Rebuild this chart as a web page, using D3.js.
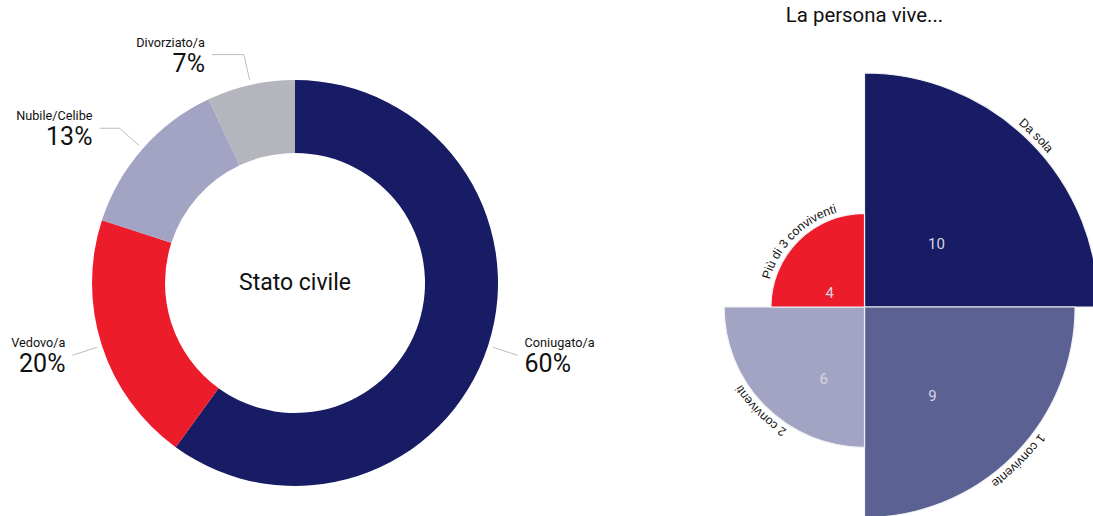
<!DOCTYPE html>
<html>
<head>
<meta charset="utf-8">
<script src="https://cdn.jsdelivr.net/npm/d3@7"></script>
<style>
  html, body { margin: 0; padding: 0; background: #fff; }
  svg { display: block; font-family: Roboto, "Noto Sans", sans-serif; }
</style>
</head>
<body>
<svg id="chart" width="1093" height="516"></svg>
<script>
// Stato civile (donut, percent)
const civilCategories = ["Coniugato/a", "Vedovo/a", "Nubile/Celibe", "Divorziato/a"];
const civilValues = [60, 20, 13, 7];
const civilColors = ["#171c64", "#ed1c2b", "#a3a4c4", "#b4b5bd"];
// horizontal tail of each leader line, px
const civilLeaderTail = [0, 0, 20, 32];

// La persona vive... (polar area, counts)
const liveCategories = ["Da sola", "1 convivente", "2 conviventi", "Più di 3 conviventi"];
const liveValues = [10, 9, 6, 4];
const liveColors = ["#171c64", "#5c6193", "#a3a4c4", "#ed1c2b"];
// value-label placement inside each sector: [angle in degrees, fraction of radius]
const liveLabelPlace = [[48.6, 0.41], [142.5, 0.53], [209.4, 0.59], [292, 0.40]];

const svg = d3.select("#chart");

// ---------- donut ----------
const dc = { x: 295, y: 283 };
const rOuter = 203, rInner = 130;
const pie = d3.pie().sort(null).value(d => d.v);
const donutData = pie(civilCategories.map((c, i) => ({ c, v: civilValues[i], i })));
const donutArc = d3.arc().innerRadius(rInner).outerRadius(rOuter);

const gD = svg.append("g").attr("transform", `translate(${dc.x},${dc.y})`);
gD.selectAll("path.slice").data(donutData).join("path")
  .attr("class", "slice")
  .attr("d", donutArc)
  .attr("fill", d => civilColors[d.data.i]);

gD.append("text")
  .attr("text-anchor", "middle")
  .attr("y", 7)
  .attr("font-size", 23)
  .attr("fill", "#111")
  .text("Stato civile");

const polar = (a, r) => [r * Math.sin(a), -r * Math.cos(a)];
donutData.forEach(d => {
  const mid = (d.startAngle + d.endAngle) / 2;
  const p0 = polar(mid, rOuter + 5);
  const p1 = polar(mid, rOuter + 31);
  const right = Math.sin(mid) > 0;
  const tail = civilLeaderTail[d.data.i];
  const p2 = [p1[0] + (right ? tail : -tail), p1[1]];
  gD.append("polyline")
    .attr("points", [p0, p1, p2].map(p => p.join(",")).join(" "))
    .attr("fill", "none")
    .attr("stroke", "#bdbdc2")
    .attr("stroke-width", 1);
  const tx = p2[0] + (right ? 7 : -7);
  const anchor = right ? "start" : "end";
  gD.append("text")
    .attr("x", tx).attr("y", p2[1] - 8)
    .attr("text-anchor", anchor)
    .attr("font-size", 12.7)
    .attr("fill", "#111")
    .text(d.data.c);
  gD.append("text")
    .attr("x", tx).attr("y", p2[1] + 17)
    .attr("text-anchor", anchor)
    .attr("font-size", 25)
    .attr("fill", "#111")
    .text(d.data.v + "%");
});

// ---------- polar area ----------
const pc = { x: 864.5, y: 307 };
const rScale = d3.scaleLinear().domain([0, 10]).range([0, 234]);
const step = 2 * Math.PI / liveValues.length;
const sectors = liveCategories.map((c, i) => ({
  c, v: liveValues[i], i,
  startAngle: i * step, endAngle: (i + 1) * step
}));

svg.append("text")
  .attr("x", pc.x).attr("y", 22)
  .attr("text-anchor", "middle")
  .attr("font-size", 20.4)
  .attr("fill", "#111")
  .text("La persona vive...");

const gP = svg.append("g").attr("transform", `translate(${pc.x},${pc.y})`);
const sectorArc = d3.arc().innerRadius(0).outerRadius(d => rScale(d.v));
gP.selectAll("path.sector").data(sectors).join("path")
  .attr("class", "sector")
  .attr("d", sectorArc)
  .attr("fill", d => liveColors[d.i])
  .attr("stroke", "#f2f2f4")
  .attr("stroke-width", 1.2);

// values inside sectors
gP.selectAll("text.val").data(sectors).join("text")
  .attr("class", "val")
  .attr("text-anchor", "middle")
  .attr("dy", "0.35em")
  .attr("font-size", 15)
  .attr("fill", "#d6d6e0")
  .attr("transform", d => {
    const [deg, f] = liveLabelPlace[d.i];
    const p = polar(deg * Math.PI / 180, rScale(d.v) * f);
    return `translate(${p[0]},${p[1]})`;
  })
  .text(d => d.v);

// category names following each outer arc
const defs = svg.append("defs");
sectors.forEach(d => {
  const R = rScale(d.v) + 5;
  const a = polar(d.startAngle, R), b = polar(d.endAngle, R);
  defs.append("path")
    .attr("id", "lab-arc-" + d.i)
    .attr("d", `M${pc.x + a[0]},${pc.y + a[1]} A${R},${R} 0 0 1 ${pc.x + b[0]},${pc.y + b[1]}`);
});
svg.selectAll("text.cat").data(sectors).join("text")
  .attr("class", "cat")
  .attr("font-family", "'Liberation Sans', Arial, sans-serif")
  .attr("font-size", 12.3)
  .attr("fill", "#111")
  .append("textPath")
  .attr("href", d => "#lab-arc-" + d.i)
  .attr("startOffset", "50%")
  .attr("text-anchor", "middle")
  .text(d => d.c);
</script>
</body>
</html>
